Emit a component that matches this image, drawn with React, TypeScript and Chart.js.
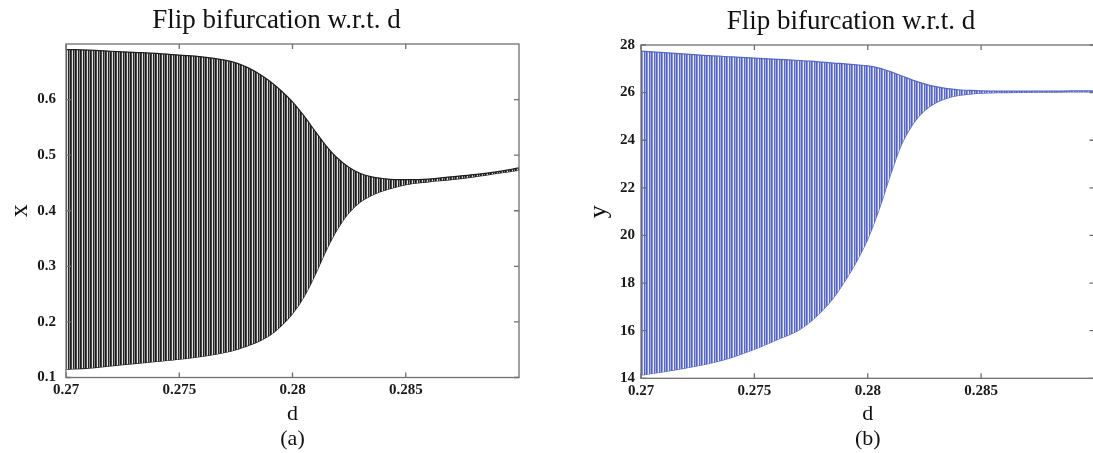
import React, { useEffect, useRef } from 'react';
import { Chart, registerables } from 'chart.js';

Chart.register(...registerables);

// bifurcation parameter d (sample points)
const D_VALUES = [
  0.27, 0.271, 0.272, 0.273, 0.274, 0.275, 0.276, 0.277, 0.2775, 0.278, 0.2785, 0.279, 0.2795,
  0.28, 0.2805, 0.281, 0.2815, 0.282, 0.2825, 0.283, 0.2835, 0.284, 0.2845, 0.285, 0.286, 0.287,
  0.288, 0.289, 0.29,
];

// panel (a): envelope of the x attractor
const X_UPPER = [
  0.69, 0.689, 0.687, 0.685, 0.683, 0.68, 0.677, 0.671, 0.666, 0.658, 0.647, 0.633, 0.616, 0.596,
  0.571, 0.543, 0.516, 0.494, 0.478, 0.467, 0.461, 0.458, 0.456, 0.456, 0.457, 0.461, 0.465, 0.47,
  0.477,
];
const X_LOWER = [
  0.115, 0.117, 0.121, 0.125, 0.129, 0.133, 0.138, 0.145, 0.15, 0.157, 0.165, 0.176, 0.193, 0.215,
  0.245, 0.285, 0.33, 0.368, 0.397, 0.416, 0.428, 0.436, 0.442, 0.447, 0.452, 0.456, 0.461, 0.467,
  0.473,
];

// panel (b): envelope of the y attractor
const Y_UPPER = [
  27.74, 27.68, 27.62, 27.55, 27.5, 27.45, 27.4, 27.35, 27.32, 27.28, 27.24, 27.21, 27.17, 27.12,
  27.03, 26.88, 26.7, 26.52, 26.37, 26.25, 26.17, 26.12, 26.09, 26.07, 26.06, 26.06, 26.06, 26.07,
  26.07,
];
const Y_LOWER = [
  14.14, 14.28, 14.44, 14.62, 14.88, 15.22, 15.62, 16.05, 16.4, 16.85, 17.4, 18.1, 18.9, 19.85,
  21.1, 22.55, 23.85, 24.7, 25.25, 25.58, 25.77, 25.88, 25.94, 25.98, 26.0, 26.01, 26.02, 26.03, 26.03,
];

const D_TICKS = [0.27, 0.275, 0.28, 0.285];
const X_TICKS = [0.1, 0.2, 0.3, 0.4, 0.5, 0.6];
const Y_TICKS = [14, 16, 18, 20, 22, 24, 26, 28];

const TITLE = 'Flip bifurcation w.r.t. d';
const SERIF = "'Liberation Serif', 'Times New Roman', Times, serif";

const framePlugin = {
  id: 'matlabFrame',
  afterDatasetsDraw(chart: any) {
    const { ctx, chartArea: a, scales } = chart;
    ctx.save();
    ctx.strokeStyle = '#707070';
    ctx.lineWidth = 1.3;
    ctx.strokeRect(a.left, a.top, a.right - a.left, a.bottom - a.top);
    const L = 5;
    ctx.beginPath();
    scales.x.ticks.forEach((t: any) => {
      const p = scales.x.getPixelForValue(t.value);
      ctx.moveTo(p, a.bottom);
      ctx.lineTo(p, a.bottom - L);
      ctx.moveTo(p, a.top);
      ctx.lineTo(p, a.top + L);
    });
    scales.y.ticks.forEach((t: any) => {
      const p = scales.y.getPixelForValue(t.value);
      ctx.moveTo(a.left, p);
      ctx.lineTo(a.left + L, p);
      ctx.moveTo(a.right, p);
      ctx.lineTo(a.right - L, p);
    });
    ctx.stroke();
    ctx.restore();
  },
};

type PanelProps = {
  left: number;
  width: number;
  upper: number[];
  lower: number[];
  stripes: string[];
  edge: string;
  yMin: number;
  yMax: number;
  yTicks: number[];
  yLabel: string;
  panelLabel: string;
  padLeft: number;
  padRight: number;
  yAxisWidth: number;
  yTickPad: number;
  yTitlePad: number;
  xAxisHeight: number;
  titlePadTop: number;
  titlePadBottom: number;
};

function Panel(p: PanelProps) {
  const ref = useRef<HTMLCanvasElement | null>(null);
  useEffect(() => {
    const canvas = ref.current!;
    const ctx = canvas.getContext('2d')!;
    const pc = document.createElement('canvas');
    pc.width = p.stripes.length;
    pc.height = 4;
    const pg = pc.getContext('2d')!;
    p.stripes.forEach((c, i) => {
      pg.fillStyle = c;
      pg.fillRect(i, 0, 1, 4);
    });
    const pattern = ctx.createPattern(pc, 'repeat')!;

    const tickFont = { family: SERIF, size: 15, weight: 'bold' as const };
    const chart = new Chart(canvas, {
      type: 'line',
      data: {
        datasets: [
          {
            data: D_VALUES.map((d, i) => ({ x: d, y: p.upper[i] })),
            borderColor: p.edge,
            borderWidth: 1.2,
            backgroundColor: pattern as any,
            fill: '+1',
            pointRadius: 0,
            cubicInterpolationMode: 'monotone',
          },
          {
            data: D_VALUES.map((d, i) => ({ x: d, y: p.lower[i] })),
            borderColor: p.edge,
            borderWidth: 1.2,
            fill: false,
            pointRadius: 0,
            cubicInterpolationMode: 'monotone',
          },
        ],
      },
      options: {
        animation: false,
        responsive: false,
        events: [],
        layout: { padding: { left: p.padLeft, right: p.padRight, top: 0, bottom: 0 } },
        plugins: {
          legend: { display: false },
          tooltip: { enabled: false },
          title: {
            display: true,
            text: TITLE,
            color: '#111',
            font: { family: SERIF, size: 27, weight: 'normal' },
            padding: { top: p.titlePadTop, bottom: p.titlePadBottom },
          },
        },
        scales: {
          x: {
            type: 'linear',
            min: 0.27,
            max: 0.29,
            afterBuildTicks: (s: any) => {
              s.ticks = D_TICKS.map((v) => ({ value: v }));
            },
            afterFit: (s: any) => {
              s.height = p.xAxisHeight;
            },
            grid: { display: false, drawTicks: false },
            border: { display: false },
            ticks: {
              autoSkip: false,
              maxRotation: 0,
              padding: 3.4,
              color: '#1a1a1a',
              font: tickFont,
              callback: (v: any) => String(v),
            },
            title: {
              display: true,
              text: ['d', p.panelLabel],
              color: '#111',
              font: { family: SERIF, size: 22, lineHeight: 1.14 },
              padding: { top: 0, bottom: 1 },
            },
          },
          y: {
            type: 'linear',
            min: p.yMin,
            max: p.yMax,
            afterBuildTicks: (s: any) => {
              s.ticks = p.yTicks.map((v) => ({ value: v }));
            },
            afterFit: (s: any) => {
              s.width = p.yAxisWidth;
            },
            grid: { display: false, drawTicks: false },
            border: { display: false },
            ticks: {
              autoSkip: false,
              padding: p.yTickPad,
              color: '#1a1a1a',
              font: tickFont,
              callback: (v: any) => String(v),
            },
            title: {
              display: true,
              text: p.yLabel,
              color: '#111',
              font: { family: SERIF, size: 26 },
              padding: { top: p.yTitlePad, bottom: 0 },
            },
          },
        },
      },
      plugins: [framePlugin],
    });
    return () => chart.destroy();
  }, []);
  return (
    <canvas
      ref={ref}
      width={p.width}
      height={453}
      style={{ position: 'absolute', left: p.left, top: 0, width: p.width, height: 453 }}
    />
  );
}

export default function App() {
  return (
    <div
      style={{
        position: 'fixed',
        left: 0,
        top: 0,
        width: 1093,
        height: 453,
        overflow: 'hidden',
        background: '#fff',
      }}
    >
      <Panel
        left={0}
        width={540}
        upper={X_UPPER}
        lower={X_LOWER}
        stripes={['#1c1c1c', '#4a4a4a', '#e2e2e2', '#262626', '#8a8a8a']}
        edge="#1e1e1e"
        yMin={0.1}
        yMax={0.7}
        yTicks={X_TICKS}
        yLabel="x"
        panelLabel="(a)"
        padLeft={34}
        padRight={21}
        yAxisWidth={32}
        yTickPad={10}
        yTitlePad={-29.7}
        xAxisHeight={75.5}
        titlePadTop={4.7}
        titlePadBottom={6.9}
      />
      <Panel
        left={546}
        width={550}
        upper={Y_UPPER}
        lower={Y_LOWER}
        stripes={['#5262c2', '#8893d4', '#e6e8f6', '#5a69c5', '#a3acdf']}
        edge="#5666c4"
        yMin={14}
        yMax={28}
        yTicks={Y_TICKS}
        yLabel="y"
        panelLabel="(b)"
        padLeft={61.5}
        padRight={1.5}
        yAxisWidth={33.5}
        yTickPad={6}
        yTitlePad={-24.2}
        xAxisHeight={74.7}
        titlePadTop={5.7}
        titlePadBottom={6.9}
      />
    </div>
  );
}
